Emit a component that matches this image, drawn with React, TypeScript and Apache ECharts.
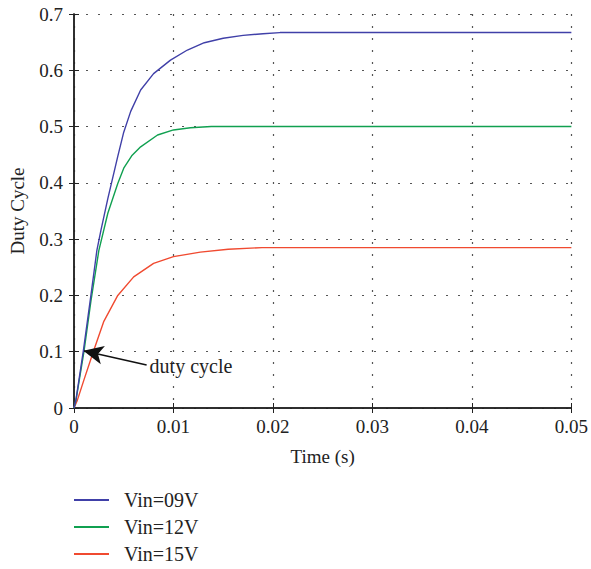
import React, { useEffect, useRef } from "react";
import * as echarts from "echarts";

const blueT = [0, 0.0002, 0.00095, 0.0017, 0.0023, 0.0027, 0.0034, 0.0044, 0.0050, 0.0057, 0.0067, 0.0080, 0.0097, 0.0114, 0.0131, 0.0150, 0.0170, 0.0190, 0.0207, 0.0500];
const blueV = [0, 0.015, 0.103, 0.200, 0.280, 0.315, 0.372, 0.447, 0.490, 0.527, 0.565, 0.594, 0.618, 0.636, 0.649, 0.657, 0.662, 0.665, 0.667, 0.667];

const greenT = [0, 0.0002, 0.0010, 0.0017, 0.0025, 0.0034, 0.0044, 0.0050, 0.0058, 0.0067, 0.0084, 0.0100, 0.0117, 0.0138, 0.0500];
const greenV = [0, 0.014, 0.100, 0.190, 0.280, 0.346, 0.399, 0.426, 0.448, 0.464, 0.485, 0.494, 0.498, 0.500, 0.500];

const redT = [0, 0.00034, 0.0010, 0.0020, 0.0030, 0.0044, 0.0060, 0.0080, 0.0100, 0.0127, 0.0155, 0.0189, 0.0500];
const redV = [0, 0.014, 0.050, 0.103, 0.154, 0.200, 0.233, 0.257, 0.269, 0.277, 0.282, 0.285, 0.285];

const seriesNames = ["Vin=09V", "Vin=12V", "Vin=15V"];
const seriesColors = ["#4040a8", "#10a050", "#f04a30"];

const xTicks = { min: 0, max: 0.05, interval: 0.01 };
const yTicks = { min: 0, max: 0.7, interval: 0.1 };

const arrowFrom = [0.0073, 0.0764];
const arrowTo = [0.00094, 0.1018];
const annotationText = "duty cycle";
const annotationAt = [0.0076, 0.0746];

const FONT = "Liberation Serif";

function pairs(t: number[], v: number[]) {
  return t.map((x, i) => [x, v[i]]);
}

export default function App() {
  const ref = useRef<HTMLDivElement>(null);
  useEffect(() => {
    document.body.style.margin = "0";
    const chart = echarts.init(ref.current!, null, { renderer: "svg" });
    const axisLine = { show: true, lineStyle: { color: "#222", width: 1.5 } };
    const tick = { show: true, inside: true, length: 5, lineStyle: { color: "#222", width: 1 } };
    const split = { show: true, lineStyle: { color: "#555", width: 1.2, type: [2, 10] } };
    const data = [pairs(blueT, blueV), pairs(greenT, greenV), pairs(redT, redV)];
    chart.setOption({
      animation: false,
      grid: { left: 74, top: 14, right: 19, bottom: 161 },
      legend: {
        orient: "vertical",
        left: 74,
        top: 490,
        padding: 0,
        icon: "rect",
        itemWidth: 35,
        itemHeight: 2,
        itemGap: 7,
        textStyle: { fontFamily: FONT, fontSize: 20, lineHeight: 20, color: "#222", padding: [0, 0, 0, 10] },
        data: seriesNames,
      },
      xAxis: [
        {
          type: "value",
          ...xTicks,
          name: "Time (s)",
          nameLocation: "middle",
          nameGap: 39,
          nameTextStyle: { fontFamily: FONT, fontSize: 19, color: "#222" },
          axisLine,
          axisTick: tick,
          axisLabel: { fontFamily: FONT, fontSize: 19, color: "#222", margin: 9 },
          splitLine: split,
        },
        {
          type: "value",
          position: "top",
          ...xTicks,
          axisLine,
          axisTick: tick,
          axisLabel: { show: false },
          splitLine: { show: false },
        },
      ],
      yAxis: [
        {
          type: "value",
          ...yTicks,
          name: "Duty Cycle",
          nameLocation: "middle",
          nameGap: 47,
          nameTextStyle: { fontFamily: FONT, fontSize: 19, color: "#222" },
          axisLine,
          axisTick: tick,
          axisLabel: { fontFamily: FONT, fontSize: 19, color: "#222", margin: 11 },
          splitLine: split,
        },
        {
          type: "value",
          position: "right",
          ...yTicks,
          axisLine,
          axisTick: tick,
          axisLabel: { show: false },
          splitLine: { show: false },
        },
      ],
      series: seriesNames.map((name, i) => ({
        name,
        type: "line",
        data: data[i],
        symbol: "none",
        smooth: false,
        color: seriesColors[i],
        itemStyle: { color: seriesColors[i] },
        lineStyle: { width: 1.4, color: seriesColors[i] },
        z: 3 + (2 - i),
        ...(i === 2
          ? {
              markLine: {
                silent: true,
                symbol: ["none", "arrow"],
                symbolSize: [14, 20],
                lineStyle: { color: "#111", width: 1.5, type: "solid" },
                label: { show: false },
                data: [[{ coord: arrowFrom }, { coord: arrowTo }]],
              },
              markPoint: {
                silent: true,
                symbol: "circle",
                symbolSize: 0,
                label: {
                  show: true,
                  position: "right",
                  distance: 0,
                  formatter: annotationText,
                  fontFamily: FONT,
                  fontSize: 20,
                  color: "#222",
                },
                data: [{ coord: annotationAt }],
              },
            }
          : {}),
      })),
    });
    return () => chart.dispose();
  }, []);
  return <div ref={ref} style={{ width: 591, height: 569 }} />;
}
